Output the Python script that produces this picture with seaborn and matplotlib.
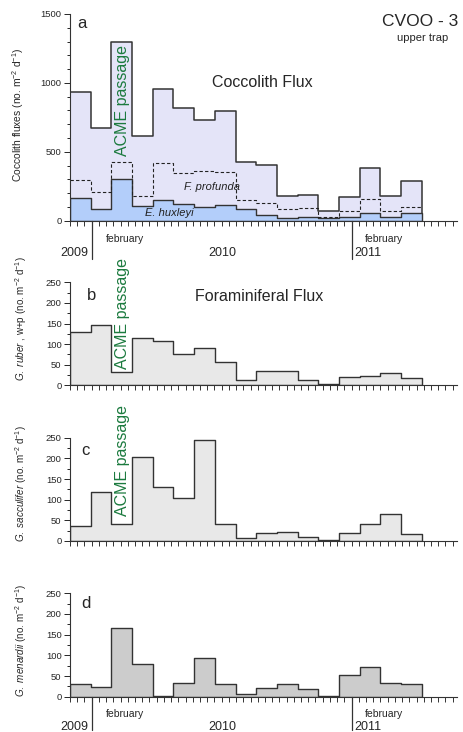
import numpy as np
import pandas as pd
import seaborn as sns
import matplotlib
matplotlib.use("Agg")
import matplotlib.pyplot as plt
from matplotlib.ticker import MultipleLocator

# ---------------- data ----------------
# sampling interval edges (days from start of record)
bin_edges = [0, 28.7, 57.3, 86, 114.6, 143.3, 172, 200.6, 229.3, 258,
             286.6, 315.3, 344, 372.6, 401.3, 430, 458.6, 487.3]

coccolith_total = [936, 670, 1300, 615, 953, 820, 731, 796, 428, 404,
                   181, 189, 73, 174, 385, 177, 288]
f_profunda = [295, 210, 423, 181, 416, 344, 360, 356, 150, 131,
              85, 92, 30, 73, 155, 70, 97]
e_huxleyi = [167, 85, 300, 109, 150, 119, 97, 114, 82, 41,
             17, 24, 17, 24, 53, 29, 53]

g_ruber = [129, 147, 32, 116, 108, 77, 90, 57, 14, 34,
           34, 12, 2, 19, 22, 29, 18]
g_sacculifer = [37, 118, 40, 204, 131, 105, 244, 42, 8, 19,
                22, 10, 3, 20, 40, 65, 16]
g_menardii = [31, 23, 165, 80, 1, 32, 93, 31, 6, 20,
              31, 18, 2, 53, 71, 34, 31]

year_labels = ["2009", "2010", "2011"]
month_label = "february"
year_line_days = [30, 390]

# ---------------- style ----------------
sns.set_style("ticks")
plt.rcParams["font.family"] = ["Liberation Sans", "DejaVu Sans"]
plt.rcParams["axes.linewidth"] = 0.8
plt.rcParams["mathtext.fontset"] = "custom"
plt.rcParams["mathtext.rm"] = "Liberation Sans"
plt.rcParams["mathtext.it"] = "Liberation Sans:italic"
plt.rcParams["mathtext.bf"] = "Liberation Sans:bold"

LINE = "#333333"
GREEN = "#1b7a3e"
XMAX = 536

fig = plt.figure(figsize=(4.63, 7.32), dpi=100)
L, W = 70 / 463, 387 / 463
pos = {
    "a": [L, 1 - 220.7 / 732, W, 206.7 / 732],
    "b": [L, 1 - 385.3 / 732, W, 103 / 732],
    "c": [L, 1 - 541 / 732, W, 103.3 / 732],
    "d": [L, 1 - 696.7 / 732, W, 103.4 / 732],
}

centers = [(bin_edges[i] + bin_edges[i + 1]) / 2 for i in range(len(bin_edges) - 1)]


def step_fill(ax, values, color, lw=1.0):
    df = pd.DataFrame({"x": centers, "w": values})
    sns.histplot(data=df, x="x", weights="w", bins=bin_edges, element="step",
                 fill=True, color=color, alpha=1, edgecolor=LINE, linewidth=lw,
                 ax=ax)


def style_axis(ax, ymax, major, minor):
    ax.set_xlim(0, XMAX)
    ax.set_ylim(0, ymax)
    sns.despine(ax=ax)
    ax.yaxis.set_major_locator(MultipleLocator(major))
    ax.yaxis.set_minor_locator(MultipleLocator(minor))
    ax.xaxis.set_major_locator(MultipleLocator(10))
    ax.set_xticklabels([])
    ax.tick_params(axis="x", which="major", length=3.5, width=0.7, direction="out", colors=LINE)
    ax.tick_params(axis="y", which="major", length=4, width=0.7, labelsize=6.8, pad=2)
    ax.tick_params(axis="y", which="minor", length=2.5, width=0.7)
    ax.set_xlabel("")
    ax.set_ylabel("")
    for s in ax.spines.values():
        s.set_color(LINE)


def ylab(text, xpix, ypix, size):
    fig.text(xpix / 463, 1 - ypix / 732, text, fontsize=size, rotation=90,
             ha="center", va="center")


def date_labels(ax, ylbl_month, ylbl_year, line_bottom):
    for d in year_line_days:
        xpix, y0 = ax.transData.transform((d, 0))
        fig.add_artist(plt.Line2D([xpix / 463, xpix / 463], [y0 / 732, 1 - line_bottom / 732],
                                  color=LINE, lw=0.9))
    fig.text(88.5 / 463, 1 - ylbl_year / 732, year_labels[0], fontsize=9, ha="right", va="center")
    fig.text(222 / 463, 1 - ylbl_year / 732, year_labels[1], fontsize=9, ha="center", va="center")
    fig.text(354 / 463, 1 - ylbl_year / 732, year_labels[2], fontsize=9, ha="left", va="center")
    fig.text(125 / 463, 1 - ylbl_month / 732, month_label, fontsize=7.5, ha="center", va="center")
    fig.text(384 / 463, 1 - ylbl_month / 732, month_label, fontsize=7.5, ha="center", va="center")


# ---------------- panel a ----------------
axa = fig.add_axes(pos["a"])
step_fill(axa, coccolith_total, "#e4e4f8", lw=1.1)
sns.lineplot(x=bin_edges, y=f_profunda + [f_profunda[-1]], drawstyle="steps-post",
             color="#222222", linestyle=(0, (3, 2)), linewidth=0.8, ax=axa)
step_fill(axa, e_huxleyi, "#b3cefa", lw=1.0)
style_axis(axa, 1500, 500, 100)
ylab("Coccolith fluxes (no. m$^{-2}$ d$^{-1}$)", 18, 115, 7.4)
axa.text(0.02, 0.955, "a", transform=axa.transAxes, fontsize=12, ha="left", va="center")
axa.text(267, 1000, "Coccolith Flux", fontsize=11.5, ha="center", va="center")
axa.text(197, 245, "F. profunda", fontsize=8, style="italic", ha="center", va="center", color="#222222")
axa.text(138, 55, "E. huxleyi", fontsize=8, style="italic", ha="center", va="center", color="#222222")
fig.text(458 / 463, 1 - 22 / 732, "CVOO - 3", fontsize=12.5, ha="right", va="center")
fig.text(423 / 463, 1 - 38 / 732, "upper trap", fontsize=8, ha="center", va="center")
fig.text(123 / 463, 1 - 101 / 732, "ACME passage", fontsize=11.5, color=GREEN,
         rotation=90, ha="center", va="center")
date_labels(axa, 239, 253, 259)

# ---------------- panel b ----------------
axb = fig.add_axes(pos["b"])
step_fill(axb, g_ruber, "#e8e8e8")
style_axis(axb, 250, 50, 25)
ylab("$\\it{G.\\ ruber}$ , w+p (no. m$^{-2}$ d$^{-1}$)", 21, 319, 7.1)
axb.text(0.045, 0.87, "b", transform=axb.transAxes, fontsize=12, ha="left", va="center")
axb.text(261.5, 215, "Foraminiferal Flux", fontsize=11.5, ha="center", va="center")
fig.text(123 / 463, 1 - 313.5 / 732, "ACME passage", fontsize=11.5, color=GREEN,
         rotation=90, ha="center", va="center")

# ---------------- panel c ----------------
axc = fig.add_axes(pos["c"])
step_fill(axc, g_sacculifer, "#e8e8e8")
style_axis(axc, 250, 50, 25)
ylab("$\\it{G.\\ sacculifer}$ (no. m$^{-2}$ d$^{-1}$)", 21, 484, 7.1)
axc.text(0.03, 0.88, "c", transform=axc.transAxes, fontsize=12, ha="left", va="center")
fig.text(123 / 463, 1 - 460 / 732, "ACME passage", fontsize=11.5, color=GREEN,
         rotation=90, ha="center", va="center")

# ---------------- panel d ----------------
axd = fig.add_axes(pos["d"])
step_fill(axd, g_menardii, "#cccccc")
style_axis(axd, 250, 50, 25)
ylab("$\\it{G.\\ menardii}$ (no. m$^{-2}$ d$^{-1}$)", 21, 641, 7.1)
axd.text(0.03, 0.9, "d", transform=axd.transAxes, fontsize=12, ha="left", va="center")
date_labels(axd, 714, 727, 730)

fig.savefig("out.png", dpi=100)
